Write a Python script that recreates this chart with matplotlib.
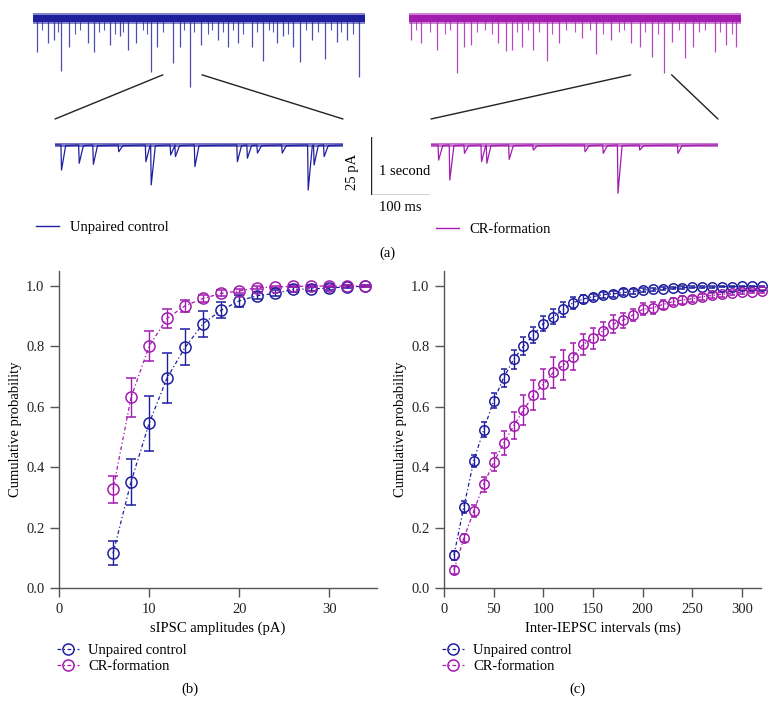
import matplotlib
matplotlib.use('Agg')
import matplotlib.pyplot as plt
from matplotlib.patches import ConnectionPatch
from matplotlib.lines import Line2D
import numpy as np

plt.rcParams['font.family'] = ['Liberation Serif', 'DejaVu Serif']
plt.rcParams['font.size'] = 10.5

BLUE = '#1f1f9e'
PURPLE = '#a21caf'
GRAY = '#555555'

# ---- panel (a): spontaneous events (time s, amplitude pA)
ctrl_t = [0.07, 0.26, 0.36, 0.48, 0.60, 0.92, 1.03, 1.30, 1.46, 1.61, 1.74, 1.99, 2.09,
          2.36, 2.48, 2.65, 2.83, 3.12, 3.29, 3.46, 3.69, 3.88, 4.11, 4.22, 4.39, 4.50,
          4.70, 4.92, 5.12, 5.29, 5.49]
ctrl_a = [14.8, 10.9, 9.5, 22.8, 12.4, 10.9, 14.8, 11.6, 8.0, 13.8, 10.9, 23.1, 12.4,
          19.5, 12.4, 29.6, 11.6, 9.5, 12.4, 10.9, 12.4, 18.4, 10.9, 8.0, 12.4, 18.8,
          9.5, 17.7, 10.2, 9.5, 25.3]
ctrl_small_t = [0.15, 0.42, 0.70, 0.80, 1.12, 1.20, 1.38, 1.52, 1.85, 1.92, 2.20, 2.55,
                2.72, 2.95, 3.02, 3.20, 3.38, 3.55, 3.78, 3.98, 4.05, 4.30, 4.60, 4.80,
                5.02, 5.20, 5.40]
ctrl_small_a = [5, 6, 7, 5, 6, 5, 7, 6, 5, 7, 6, 5, 6, 7, 5, 6, 5, 7, 6, 5, 6, 7, 5, 6, 5, 6, 7]

cr_t = [0.03, 0.21, 0.47, 0.81, 0.92, 1.05, 1.51, 1.64, 1.73, 1.91, 2.09, 2.32, 2.53,
        2.92, 3.16, 3.40, 3.74, 3.89, 4.10, 4.30, 4.44, 4.65, 4.79, 5.17, 5.34, 5.51]
cr_a = [9.5, 10.9, 13.8, 23.6, 12.4, 11.6, 10.9, 14.1, 13.8, 12.4, 13.8, 18.5, 10.9,
        8.8, 15.7, 9.5, 10.9, 12.4, 16.9, 23.6, 10.2, 17.4, 12.4, 14.5, 11.6, 12.4]
cr_small_t = [0.12, 0.35, 0.60, 0.70, 1.15, 1.28, 1.40, 1.82, 2.00, 2.20, 2.42, 2.65,
              2.80, 3.05, 3.28, 3.55, 3.62, 3.98, 4.20, 4.55, 4.90, 5.00, 5.25, 5.45]
cr_small_a = [5, 6, 7, 5, 6, 5, 7, 6, 5, 6, 7, 5, 6, 5, 7, 6, 5, 6, 7, 5, 6, 5, 6, 7]

# expanded sections (time ms, amplitude pA)
ctrl_zoom_t = [10, 40, 64, 107, 153, 162, 195, 203, 236, 308, 325, 342, 384, 428, 438, 455]
ctrl_zoom_a = [10.8, 7.9, 8.3, 2.9, 7.2, 17.2, 4.3, 5.0, 9.3, 7.2, 5.7, 3.5, 3.5, 19.4, 8.6, 5.0]
cr_zoom_t = [12, 31, 56, 85, 94, 132, 173, 261, 292, 317, 354, 419]
cr_zoom_a = [6.5, 15.1, 3.6, 7.2, 7.9, 6.2, 2.2, 2.9, 3.6, 20.8, 2.2, 3.6]

# ---- panel (b): cumulative probability of sIPSC amplitudes
amp_x = [6, 8, 10, 12, 14, 16, 18, 20, 22, 24, 26, 28, 30, 32, 34]
amp_ctrl = [0.115, 0.352, 0.545, 0.696, 0.797, 0.876, 0.920, 0.951, 0.968, 0.976,
            0.989, 0.991, 0.993, 0.998, 0.999]
amp_ctrl_err = [0.040, 0.076, 0.090, 0.082, 0.060, 0.043, 0.027, 0.020, 0.012, 0.010,
                0.008, 0.006, 0.005, 0.004, 0.003]
amp_cr = [0.327, 0.631, 0.801, 0.893, 0.935, 0.959, 0.976, 0.984, 0.995, 0.997,
          0.999, 1.0, 1.0, 1.0, 1.0]
amp_cr_err = [0.045, 0.065, 0.050, 0.032, 0.020, 0.012, 0.010, 0.008, 0.005, 0.004,
              0.003, 0.002, 0.002, 0.002, 0.002]

# ---- panel (c): cumulative probability of inter-event intervals
ivl_x = list(range(10, 330, 10))
ivl_ctrl = [0.109, 0.269, 0.422, 0.525, 0.620, 0.696, 0.757, 0.801, 0.838, 0.876,
            0.898, 0.923, 0.945, 0.957, 0.965, 0.972, 0.974, 0.979, 0.982, 0.987,
            0.989, 0.992, 0.994, 0.995, 0.996, 0.997, 0.997, 0.998, 0.998, 0.999,
            0.999, 0.999]
ivl_ctrl_err = [0.015, 0.020, 0.020, 0.025, 0.025, 0.030, 0.030, 0.030, 0.025, 0.025,
                0.025, 0.025, 0.020, 0.012, 0.010, 0.010, 0.010, 0.010, 0.008, 0.007,
                0.006, 0.005, 0.004, 0.004, 0.003, 0.003, 0.003, 0.002, 0.002, 0.002,
                0.002, 0.002]
ivl_cr = [0.060, 0.165, 0.255, 0.344, 0.416, 0.479, 0.537, 0.589, 0.639, 0.675,
          0.714, 0.738, 0.766, 0.807, 0.827, 0.852, 0.874, 0.887, 0.904, 0.923,
          0.928, 0.939, 0.948, 0.954, 0.958, 0.965, 0.969, 0.973, 0.977, 0.980,
          0.982, 0.983]
ivl_cr_err = [0.012, 0.013, 0.020, 0.025, 0.030, 0.040, 0.045, 0.050, 0.050, 0.050,
              0.050, 0.050, 0.045, 0.035, 0.035, 0.030, 0.030, 0.025, 0.020, 0.020,
              0.020, 0.015, 0.012, 0.012, 0.010, 0.010, 0.008, 0.008, 0.007, 0.006,
              0.006, 0.005]

fig = plt.figure(figsize=(7.75, 7.15), dpi=100)


def raw_trace(rect, color, t_big, a_big, t_small, a_small):
    ax = fig.add_axes(rect)
    ax.fill_between([0, 5.6], -2.6, 2.0, color=color, lw=0, alpha=0.55)
    ax.fill_between([0, 5.6], -1.6, 1.4, color=color, lw=0)
    ax.vlines(t_small, 0, -np.array(a_small), color=color, lw=0.8, alpha=0.75)
    ax.vlines(t_big, 0, -np.array(a_big), color=color, lw=0.9, alpha=0.8)
    ax.set_xlim(0, 5.6)
    ax.set_ylim(-31.9, 3.4)
    ax.axis('off')
    return ax


def zoom_trace(rect, color, t_ev, a_ev):
    ax = fig.add_axes(rect)
    tt = [0]
    yy = [0]
    for t, a in zip(t_ev, a_ev):
        tt += [t, t + 1.0, t + 8]
        yy += [0, -a, -0.3]
    tt.append(488)
    yy.append(0)
    ax.fill_between([0, 488], -0.8, 0.8, color=color, lw=0, alpha=0.6)
    line, = ax.plot(tt, yy, color=color, lw=0.9)
    ax.set_xlim(0, 488)
    ax.set_ylim(-23.7, 4.3)
    ax.axis('off')
    return ax, line


ax_top1 = raw_trace([0.0426, 0.8713, 0.4284, 0.1147], BLUE, ctrl_t, ctrl_a, ctrl_small_t, ctrl_small_a)
ax_top2 = raw_trace([0.5277, 0.8713, 0.4284, 0.1147], PURPLE, cr_t, cr_a, cr_small_t, cr_small_a)
ax_z1, ln1 = zoom_trace([0.071, 0.7203, 0.3716, 0.0909], BLUE, ctrl_zoom_t, ctrl_zoom_a)
ax_z2, ln2 = zoom_trace([0.5561, 0.7203, 0.3703, 0.0909], PURPLE, cr_zoom_t, cr_zoom_a)

# zoom guide lines
for axa, axb, t0, t1 in [(ax_top1, ax_z1, 2.19, 2.85), (ax_top2, ax_z2, 3.74, 4.43)]:
    for ta, xb in [(t0, 0.0), (t1, 1.0)]:
        cp = ConnectionPatch(xyA=(ta, -24.5), coordsA=axa.transData,
                             xyB=(xb, 1.246), coordsB=axb.transAxes,
                             color='#222222', lw=1.0)
        fig.add_artist(cp)

# scale bar
ax_sb = fig.add_axes([371 / 775, 1 - 195 / 715, 59 / 775, 58 / 715])
ax_sb.plot([0, 0, 100], [25, 0, 0], color='#222222', lw=1.0)
ax_sb.set_xlim(0, 100)
ax_sb.set_ylim(0, 25)
ax_sb.axis('off')
ax_sb.text(-0.32, 0.4, '25 pA', rotation=90, ha='center', va='center', transform=ax_sb.transAxes)
ax_sb.text(0.13, 0.41, '1 second', ha='left', va='center', transform=ax_sb.transAxes)
ax_sb.text(0.13, -0.22, '100 ms', ha='left', va='center', transform=ax_sb.transAxes)

fig.legend([Line2D([], [], color=BLUE, lw=1.0)], ['Unpaired control'], loc='center left',
           bbox_to_anchor=(36 / 775, 1 - 227 / 715),
           frameon=False, handlelength=1.6, handletextpad=0.7, borderpad=0, borderaxespad=0)
fig.legend([Line2D([], [], color=PURPLE, lw=1.0)], ['CR-formation'], loc='center left',
           bbox_to_anchor=(436 / 775, 1 - 229 / 715),
           frameon=False, handlelength=1.6, handletextpad=0.7, borderpad=0, borderaxespad=0)
fig.text(387 / 775, 1 - 253 / 715, '(a)', ha='center', va='center')


def cum_axes(rect, xlim, xticks):
    ax = fig.add_axes(rect)
    for s in ['top', 'right']:
        ax.spines[s].set_visible(False)
    for s in ['left', 'bottom']:
        ax.spines[s].set_color(GRAY)
        ax.spines[s].set_linewidth(1.0)
    ax.set_xlim(*xlim)
    ax.set_ylim(0, 1.05)
    ax.set_xticks(xticks)
    ax.set_yticks([0.0, 0.2, 0.4, 0.6, 0.8, 1.0])
    ax.set_yticklabels(['0.0', '0.2', '0.4', '0.6', '0.8', '1.0'])
    ax.tick_params(direction='out', length=6.5, width=1.0, color=GRAY, labelcolor='#222222', pad=4)
    ax.set_ylabel('Cumulative probability', labelpad=3)
    return ax


dashdot = (0, (3, 2, 1, 2))


def legend_handles(ms):
    return [Line2D([], [], color=c, ls=dashdot, lw=0.9, marker='o', ms=ms, mfc='none', mew=1.1)
            for c in (BLUE, PURPLE)]


ax_b = cum_axes([59 / 775, 1 - 588 / 715, 318 / 775, 317 / 715], (0, 35.3), [0, 10, 20, 30])
for y, e, c in [(amp_ctrl, amp_ctrl_err, BLUE), (amp_cr, amp_cr_err, PURPLE)]:
    ax_b.errorbar(amp_x, y, yerr=e, color=c, ls=dashdot, lw=0.9, marker='o', ms=8,
                  mfc='none', mec=c, mew=1.1, capsize=3.3, elinewidth=1.0, capthick=1.0,
                  clip_on=False)
ax_b.set_xlabel('sIPSC amplitudes (pA)', labelpad=4)
ax_b.legend(legend_handles(8), ['Unpaired control', 'CR-formation'], loc='upper left',
            bbox_to_anchor=(-0.005, -0.175), frameon=False, borderpad=0,
            borderaxespad=0, handlelength=1.5, handletextpad=0.6, labelspacing=0.2)
fig.text(190 / 775, 1 - 689 / 715, '(b)', ha='center', va='center')

ax_c = cum_axes([444 / 775, 1 - 588 / 715, 317 / 775, 317 / 715], (0, 319), [0, 50, 100, 150, 200, 250, 300])
for y, e, c in [(ivl_ctrl, ivl_ctrl_err, BLUE), (ivl_cr, ivl_cr_err, PURPLE)]:
    ax_c.errorbar(ivl_x, y, yerr=e, color=c, ls=dashdot, lw=0.9, marker='o', ms=6.8,
                  mfc='none', mec=c, mew=1.1, capsize=2.5, elinewidth=1.0, capthick=1.0,
                  clip_on=False)
ax_c.set_xlabel('Inter-IEPSC intervals (ms)', labelpad=4)
ax_c.legend(legend_handles(8), ['Unpaired control', 'CR-formation'], loc='upper left',
            bbox_to_anchor=(-0.005, -0.175), frameon=False, borderpad=0,
            borderaxespad=0, handlelength=1.5, handletextpad=0.6, labelspacing=0.2)
fig.text(577 / 775, 1 - 689 / 715, '(c)', ha='center', va='center')

fig.savefig('out.png', dpi=100)
